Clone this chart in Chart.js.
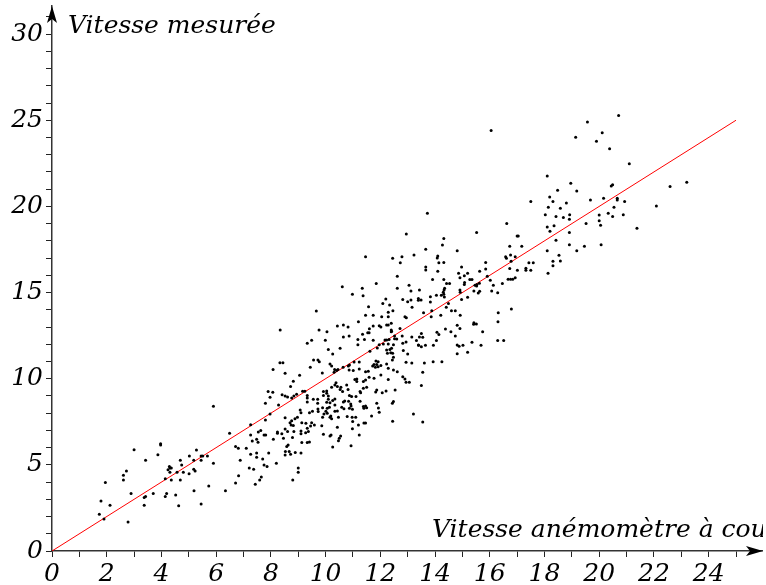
<!DOCTYPE html>
<html>
<head>
<meta charset="utf-8">
<style>
  html, body { margin: 0; padding: 0; background: #fff; }
  #box { width: 766px; height: 585px; }
</style>
<script src="https://cdn.jsdelivr.net/npm/chart.js@4"></script>
</head>
<body>
<div id="box"><canvas id="chart" width="766" height="585"></canvas></div>
<script>
const axisFont = { family: "'DejaVu Serif'", style: "italic", size: 25 };
const titleX = "Vitesse anémomètre à cou";
const titleY = "Vitesse mesurée";
const lineX = [0, 25];
const lineY = [0, 25];

// values, x and y line up by position
const anemometre = [
  1.73,1.79,1.90,1.95,2.12,2.61,2.61,2.72,2.78,2.89,
  3.00,3.37,3.42,3.37,3.42,3.70,3.87,3.97,3.97,4.14,
  4.14,4.19,4.24,4.29,4.31,4.36,4.31,4.36,4.52,4.57,
  4.63,4.69,4.69,4.74,4.80,5.01,5.02,5.18,5.18,5.23,
  5.19,5.28,5.45,5.45,5.51,5.45,5.68,5.73,5.90,5.90,
  6.34,6.49,6.71,6.71,6.81,6.82,6.88,7.10,7.21,7.26,
  7.26,7.26,7.32,7.37,7.43,7.48,7.48,7.48,7.53,7.54,
  7.59,7.63,7.65,7.70,7.75,7.75,7.81,7.80,7.80,7.86,
  7.92,7.97,8.09,8.20,8.24,8.24,8.28,
  8.34,9.76,9.49,9.33,9.66,8.33,8.44,9.56,9.72,9.77,9.44,8.08,
  10.05,10.65,10.86,11.35,11.54,11.59,12.41,9.99,11.18,11.42,
  11.18,11.74,11.96,12.17,12.23,12.11,12.29,12.60,12.48,13.15,
  13.43,13.39,12.94,12.82,10.53,10.10,10.26,11.89,12.23,12.35,
  12.41,12.38,12.45,12.26,12.48,12.44,12.84,13.00,11.62,10.16,
  10.22,10.33,10.40,10.31,10.45,10.64,10.83,10.87,11.04,11.23,
  11.84,11.92,11.77,11.87,11.72,11.82,11.92,12.02,12.23,12.94,
  13.15,11.23,11.01,10.86,11.46,11.56,12.02,12.29,12.48,12.62,
  12.82,12.90,13.06,12.94,8.52,9.05,9.88,8.82,8.72,7.90,
  8.07,7.97,8.41,8.52,8.61,8.76,8.94,8.84,9.16,9.24,
  10.38,10.34,10.43,10.22,10.53,10.77,10.56,10.82,11.07,11.14,
  11.46,11.14,11.38,11.59,11.77,12.29,12.54,12.21,12.07,11.87,
  11.83,11.50,11.38,11.26,11.28,11.11,10.87,10.95,10.62,10.04,
  9.92,10.04,10.10,9.92,10.34,10.26,10.10,9.71,9.55,9.33,
  9.33,9.33,9.71,10.04,10.16,10.34,10.70,10.65,10.84,10.92,
  10.59,10.67,10.87,10.98,10.93,11.26,11.38,11.46,11.40,11.50,
  11.87,12.48,12.44,11.93,11.96,10.06,10.14,10.01,9.89,9.72,
  9.73,9.52,9.41,9.07,9.10,8.52,8.97,8.88,8.76,8.70,
  8.74,8.82,9.13,9.28,9.49,9.59,9.89,10.19,10.34,10.43,
  9.94,10.06,10.16,10.22,10.47,10.79,10.97,11.10,10.99,11.20,
  11.40,11.46,11.68,12.45,13.21,10.98,10.43,9.86,9.45,9.33,
  9.10,8.84,8.61,8.52,8.40,9.10,9.27,9.37,9.33,9.41,
  9.13,8.79,8.46,9.92,10.16,10.20,10.55,10.50,10.47,11.23,
  10.26,10.93,8.63,8.58,8.53,8.67,8.72,8.89,9.10,8.52,
  9.00,9.00,8.80,
  13.72,12.95,15.52,14.32,14.27,13.66,14.81,13.23,11.46,12.79,
  12.45,14.10,14.08,12.73,14.14,14.32,15.85,14.97,15.85,13.66,
  13.66,14.10,15.63,14.86,15.19,15.07,14.91,15.91,12.62,13.91,
  14.32,15.27,15.35,16.02,11.85,14.42,14.53,15.08,15.07,15.46,
  15.53,15.52,15.62,16.13,10.61,11.34,12.62,13.05,13.12,13.43,
  14.35,14.33,14.30,14.91,14.92,15.42,15.58,15.63,16.07,10.98,
  11.37,14.05,14.23,14.32,14.34,13.83,14.49,14.97,15.19,12.20,
  12.82,13.00,13.12,13.39,13.39,13.49,13.83,12.09,12.34,11.57,
  13.16,14.41,12.29,12.46,13.88,14.60,14.74,16.31,11.46,11.74,
  12.05,12.29,12.90,12.95,13.58,13.86,14.21,14.92,11.20,16.30,
  10.43,10.65,10.82,11.74,11.96,12.02,12.23,12.29,12.40,12.72,
  12.40,12.40,11.60,12.32,12.52,12.52,12.80,13.50,13.55,14.07,
  14.14,14.38,14.58,14.74,14.81,14.91,15.42,15.41,15.51,15.74,
  16.79,16.29,16.51,15.68,15.35,15.19,14.81,14.88,15.02,14.81,
  13.94,14.05,13.65,13.50,13.40,13.32,13.61,13.93,14.25,13.55,
  13.50,13.55,
  20.71,19.57,20.11,19.14,19.90,20.38,16.05,21.10,18.10,18.96,
  20.49,20.44,18.48,19.18,22.59,18.19,20.16,20.66,20.66,18.31,
  17.50,19.68,20.93,18.80,20.54,22.09,18.14,18.58,18.03,18.42,
  18.69,18.92,18.91,20.00,20.33,20.49,20.88,20.00,19.52,20.05,
  18.10,18.35,18.20,18.91,21.38,16.62,17.00,17.04,18.42,16.73,
  17.17,18.91,19.46,20.07,18.10,19.18,18.53,16.58,16.61,16.76,
  16.93,16.78,18.31,18.58,17.43,17.59,18.31,16.73,17.01,17.32,
  17.32,17.50,18.13,16.67,16.76,16.84,16.93,16.46,16.29,23.20
];
const mesuree = [
  2.13,2.90,1.86,3.97,2.65,4.12,4.39,4.64,1.68,3.33,
  5.88,3.10,3.17,2.65,5.26,3.33,5.59,6.23,6.15,4.20,
  3.17,3.33,4.72,4.91,4.82,4.82,4.57,4.12,3.25,4.57,
  2.63,5.26,4.12,4.99,4.57,4.49,5.51,5.26,4.74,4.64,
  3.50,5.86,5.26,5.51,5.51,2.73,5.51,3.77,5.09,8.40,
  3.50,6.83,6.06,3.95,5.96,4.37,5.26,5.96,4.82,5.61,
  6.73,7.33,6.38,4.74,3.87,6.48,5.69,5.44,6.31,6.91,
  4.12,7.00,4.29,5.34,4.99,6.73,6.73,7.60,8.57,4.91,
  5.69,7.95,6.48,5.09,6.91,6.83,8.47,
  12.83,12.83,12.23,12.05,13.93,10.93,10.93,11.08,11.08,10.99,10.66,10.54,
  12.73,12.42,12.48,12.58,12.67,12.67,12.75,12.23,12.28,12.28,
  11.97,12.23,11.97,12.25,12.25,12.01,12.01,12.30,11.97,12.42,
  12.42,11.96,12.13,12.05,11.76,11.70,11.43,11.78,11.67,11.70,
  11.76,11.51,11.47,11.47,11.24,11.09,11.63,11.43,11.59,10.85,
  10.74,10.54,10.47,10.37,10.54,10.66,10.74,10.80,10.97,10.97,
  11.03,10.99,10.83,10.83,10.74,10.66,10.70,10.76,10.85,10.95,
  10.91,10.56,10.47,10.51,10.41,10.43,10.21,10.60,10.51,10.41,
  10.12,9.98,9.79,9.79,10.31,10.20,10.33,9.85,9.54,9.25,
  9.21,8.92,9.07,9.00,8.94,8.88,9.09,9.00,9.27,9.27,
  9.77,9.63,9.54,9.50,9.38,9.63,9.50,9.38,9.96,9.98,
  9.92,9.83,9.83,10.08,10.02,9.96,9.34,9.29,9.19,9.34,
  9.23,9.50,9.44,9.25,9.19,8.96,9.02,8.96,9.25,9.29,
  9.25,9.15,9.00,9.02,8.82,8.73,8.80,8.80,8.80,9.02,
  8.88,8.65,8.57,8.63,8.61,8.47,8.71,8.65,8.69,8.53,
  8.34,8.26,8.28,8.22,8.42,8.69,8.38,8.42,8.28,8.32,
  8.57,8.67,8.57,8.30,8.05,8.28,8.34,8.11,8.32,8.24,
  8.09,8.11,8.03,8.18,8.03,7.74,7.76,7.68,7.56,7.45,
  7.31,7.29,7.45,7.41,7.45,7.31,7.76,7.84,8.11,8.13,
  7.95,7.99,7.76,7.68,7.76,7.80,7.76,7.76,7.51,7.31,
  7.43,7.43,7.84,7.53,7.95,7.10,7.18,7.27,7.25,7.12,
  6.96,6.93,6.93,7.08,6.81,6.81,6.87,6.93,6.29,6.33,
  6.29,6.58,6.54,6.77,6.67,6.73,6.67,6.54,6.40,6.73,
  6.04,6.11,6.15,6.06,5.77,5.77,5.62,5.71,5.69,5.57,
  4.82,4.57,4.12,
  19.60,18.40,18.48,18.13,17.76,17.51,17.43,17.18,17.08,17.08,
  16.99,17.12,17.01,16.73,16.73,16.75,16.75,16.48,16.37,16.48,
  16.31,16.23,16.23,16.12,16.12,15.98,15.86,15.94,15.94,15.75,
  15.75,15.75,15.75,15.71,15.52,15.52,15.52,15.59,15.46,15.42,
  15.46,15.38,15.54,15.42,15.34,15.25,15.25,15.42,15.09,15.15,
  15.25,15.15,15.01,15.15,15.01,15.09,14.97,15.07,15.09,14.90,
  14.82,14.84,14.84,14.90,14.74,14.76,14.37,14.59,14.72,14.63,
  14.59,14.47,14.57,14.66,14.55,14.57,14.45,14.37,14.28,14.18,
  14.14,14.14,13.85,13.95,13.95,13.95,13.95,13.83,13.68,13.68,
  13.60,13.60,13.60,13.54,13.83,13.60,13.68,13.68,13.31,13.31,
  13.06,13.12,13.00,13.06,13.08,13.00,13.12,13.12,13.22,12.92,
  12.83,12.73,12.90,12.28,12.48,12.32,12.48,12.63,12.40,12.69,
  12.56,12.88,12.73,12.48,13.10,12.92,13.25,13.16,13.17,12.73,
  14.05,12.21,12.21,11.94,12.11,11.53,11.96,11.88,11.94,11.45,
  11.94,12.21,11.94,11.86,11.94,12.21,10.91,10.99,10.99,10.37,
  9.60,7.49,
  25.27,24.90,24.28,24.01,23.78,23.35,24.40,22.48,21.76,21.34,
  21.26,21.18,20.93,20.89,21.16,20.55,20.47,20.47,20.37,20.29,
  20.29,20.37,20.29,20.20,19.95,20.02,19.95,19.89,19.52,19.42,
  19.35,19.52,19.25,19.50,19.60,19.42,19.52,19.17,19.00,18.90,
  18.80,18.88,18.55,18.48,18.73,19.00,18.28,18.28,18.03,17.68,
  17.68,17.78,17.68,17.78,17.43,17.43,17.16,17.08,16.99,17.18,
  17.08,16.81,16.81,16.83,16.73,16.73,16.56,16.39,16.29,16.41,
  16.29,16.29,16.12,15.77,15.77,15.77,15.86,15.53,14.99,21.40
];
const points = anemometre.map(function (x, i) {
  return { x: x, y: mesuree[i] };
});
const fitLine = lineX.map(function (x, i) {
  return { x: x, y: lineY[i] };
});

// arrow heads and the two axis titles
const axisDecor = {
  id: "axisDecor",
  afterDraw: function (chart) {
    const ctx = chart.ctx;
    const left = chart.scales.x.getPixelForValue(0);
    const bottom = chart.scales.y.getPixelForValue(0);
    ctx.save();
    ctx.beginPath();
    ctx.rect(0, 0, 763, 585);
    ctx.clip();
    ctx.fillStyle = "#000";
    ctx.beginPath();
    ctx.moveTo(left, 6);
    ctx.lineTo(left + 5, 23);
    ctx.lineTo(left, 19);
    ctx.lineTo(left - 5, 23);
    ctx.closePath();
    ctx.fill();
    ctx.beginPath();
    ctx.moveTo(763, bottom);
    ctx.lineTo(746, bottom - 5);
    ctx.lineTo(750, bottom);
    ctx.lineTo(746, bottom + 5);
    ctx.closePath();
    ctx.fill();
    ctx.font = "italic 25px 'DejaVu Serif'";
    ctx.textAlign = "left";
    ctx.textBaseline = "alphabetic";
    ctx.fillText(titleY, 68, 33);
    ctx.fillText(titleX, 432, 537);
    ctx.restore();
  },
};

const chart = new Chart(document.getElementById("chart").getContext("2d"), {
  type: "scatter",
  data: {
    datasets: [
      {
        data: points,
        pointRadius: 1.5,
        pointHoverRadius: 1.5,
        pointBackgroundColor: "#000",
        pointBorderWidth: 0,
      },
      {
        type: "line",
        data: fitLine,
        borderColor: "#ff0000",
        borderWidth: 1,
        pointRadius: 0,
        fill: false,
      },
    ],
  },
  options: {
    responsive: false,
    animation: false,
    layout: { padding: { top: 6, right: 4, left: 0, bottom: 0 } },
    plugins: { legend: { display: false }, tooltip: { enabled: false } },
    scales: {
      x: {
        type: "linear",
        min: 0,
        max: 25.95,
        afterFit: function (scale) {
          scale.height = 34;
          scale.paddingLeft = 0;
          scale.paddingRight = 0;
        },
        grid: { drawOnChartArea: false, drawTicks: true, tickLength: 6, tickColor: "#222" },
        border: { color: "#333", width: 1.5 },
        ticks: {
          stepSize: 1,
          includeBounds: false,
          autoSkip: false,
          maxRotation: 0,
          padding: 2,
          color: "#000",
          font: axisFont,
          callback: function (value) {
            return value % 2 === 0 ? String(value) : "";
          },
        },
      },
      y: {
        type: "linear",
        min: 0,
        max: 31.63,
        afterFit: function (scale) {
          scale.width = 52;
          scale.paddingTop = 0;
          scale.paddingBottom = 0;
        },
        grid: { drawOnChartArea: false, drawTicks: true, tickLength: 6, tickColor: "#222" },
        border: { color: "#333", width: 1.5 },
        ticks: {
          stepSize: 1,
          includeBounds: false,
          autoSkip: false,
          padding: 3,
          color: "#000",
          font: axisFont,
          callback: function (value) {
            return value % 5 === 0 ? String(value) : "";
          },
        },
      },
    },
  },
  plugins: [axisDecor],
});
</script>
</body>
</html>
